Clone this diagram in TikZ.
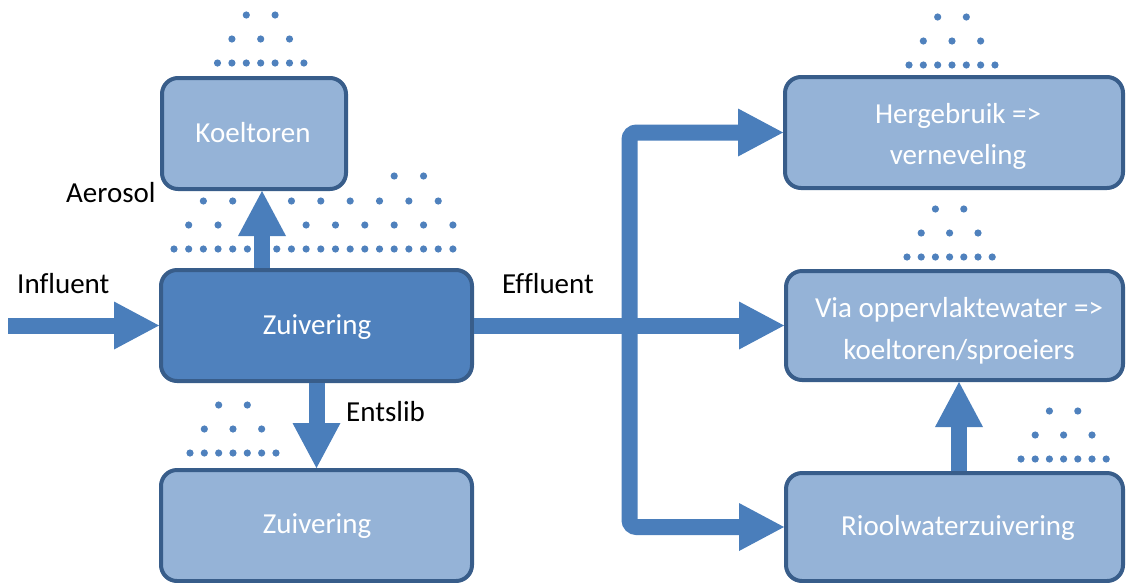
\documentclass[tikz,border=0pt]{standalone}
\usepackage{fontspec}
\setmainfont{Carlito}[Ligatures=CommonOff]
\usetikzlibrary{calc}
\definecolor{mainfill}{HTML}{4F81BD}
\definecolor{boxborder}{HTML}{385D8A}
\definecolor{lightfill}{HTML}{95B3D7}
\definecolor{flow}{HTML}{4A7EBB}
\definecolor{dotc}{HTML}{4F81BD}
\newcommand\labfont{\fontsize{29}{41}\selectfont}
\newcommand\spraytri[3]{%
  \foreach \k in {2,4} {\fill[dotc] ({#1+\k*#3},{#2}) circle[radius=3.6];}
  \foreach \k in {1,3,5} {\fill[dotc] ({#1+\k*#3},{#2+24}) circle[radius=3.6];}
  \foreach \k in {0,...,6} {\fill[dotc] ({#1+\k*#3},{#2+48}) circle[radius=3.6];}
}
\tikzset{
  procbox/.style={draw=boxborder, line width=4pt, rounded corners=16pt, fill=lightfill, inner sep=0pt},
  mainbox/.style={procbox, fill=mainfill},
  wtext/.style={text=white, anchor=base, inner sep=0pt, font=\labfont},
  btext/.style={text=black, anchor=base west, inner sep=0pt, font=\labfont},
  shaft/.style={draw=flow, line width=16pt},
  head/.style={fill=flow},
}
\begin{document}
\begin{tikzpicture}[x=1pt,y=-1pt]
\useasboundingbox (0,0) rectangle (1126,582);

% spray dots
\spraytri{217.5}{15}{14.4}
\spraytri{909}{17}{14.33}
\spraytri{907}{209}{14.2}
\spraytri{1021}{411}{14.2}
\spraytri{190}{405}{14.33}
% large aerosol field
\foreach \k in {15,17} {\fill[dotc] ({174+\k*14.68},176) circle[radius=3.6];}
\foreach \k in {2,4,8,10,12,14,16,18} {\fill[dotc] ({174+\k*14.68},201) circle[radius=3.6];}
\foreach \k in {1,3,9,11,13,15,17,19} {\fill[dotc] ({174+\k*14.68},225) circle[radius=3.6];}
\foreach \k in {0,...,19} {\fill[dotc] ({174+\k*14.68},249) circle[radius=3.6];}

% boxes
\node[procbox, minimum width=184pt, minimum height=111pt] (koel) at (254,133.5) {};
\node[mainbox, minimum width=311pt, minimum height=111pt] (zm) at (316.5,325.5) {};
\node[procbox, minimum width=311pt, minimum height=111pt] (zb) at (316.5,525.5) {};
\node[procbox, minimum width=338pt, minimum height=111pt] (her) at (954,132.5) {};
\node[procbox, minimum width=337pt, minimum height=109pt] (via) at (954.5,325.5) {};
\node[procbox, minimum width=337pt, minimum height=108pt] (riool) at (954.5,527) {};

% box texts
\node[wtext] (tkoel) at (253,142) {Koeltoren};
\node[wtext] (tzm) at (317,334) {Zuivering};
\node[wtext] (tzb) at (317,533) {Zuivering};
\node[wtext] (ther1) at (958,123) {Hergebruik =>};
\node[wtext] (ther2) at (958,164) {verneveling};
\node[wtext] (tvia1) at (959,317) {Via oppervlaktewater =>};
\node[wtext] (tvia2) at (959,359) {koeltoren/sproeiers};
\node[wtext] (triool) at (958,535) {Rioolwaterzuivering};

% labels
\node[btext] (linf) at (17,293) {Influent};
\node[btext] (laer) at (66,202) {Aerosol};
\node[btext] (leff) at (502,293) {Effluent};
\node[btext] (lent) at (346,421) {Entslib};

% influent
\coordinate (inS) at (8,325.5);
\draw[shaft] (inS) -- ([xshift=-44pt]zm.west);
\fill[head] (zm.west) -- ++(-45,-24) -- ++(0,48) -- cycle;

% aerosol up to cooling tower
\coordinate (aeroB) at (262,0 |- zm.north);
\coordinate (aeroT) at (262,0 |- koel.south);
\draw[shaft] (aeroB) -- ([yshift=-44pt]aeroT);
\fill[head] (aeroT) -- ++(-24,45) -- ++(48,0) -- cycle;

% entslib down
\draw[shaft] (zm.south) -- ([yshift=44pt]zb.north);
\fill[head] (zb.north) -- ++(-24,-45) -- ++(48,0) -- cycle;

% effluent
\coordinate (jx) at (629.5,0);
\draw[shaft] (zm.east) -- ([xshift=-44pt]via.west);
\draw[shaft, rounded corners=7pt] ([xshift=-44pt]her.west) -- (jx |- her.west) -- (jx |- riool.west) -- ([xshift=-44pt]riool.west);
\fill[head] (her.west) -- ++(-45,-24) -- ++(0,48) -- cycle;
\fill[head] (via.west) -- ++(-45,-24) -- ++(0,48) -- cycle;
\fill[head] (riool.west) -- ++(-45,-24) -- ++(0,48) -- cycle;

% riool to via
\coordinate (rvB) at (959,0 |- riool.north);
\coordinate (rvT) at (959,0 |- via.south);
\draw[shaft] (rvB) -- ([yshift=-44pt]rvT);
\fill[head] (rvT) -- ++(-24,45) -- ++(48,0) -- cycle;
\end{tikzpicture}
\end{document}
